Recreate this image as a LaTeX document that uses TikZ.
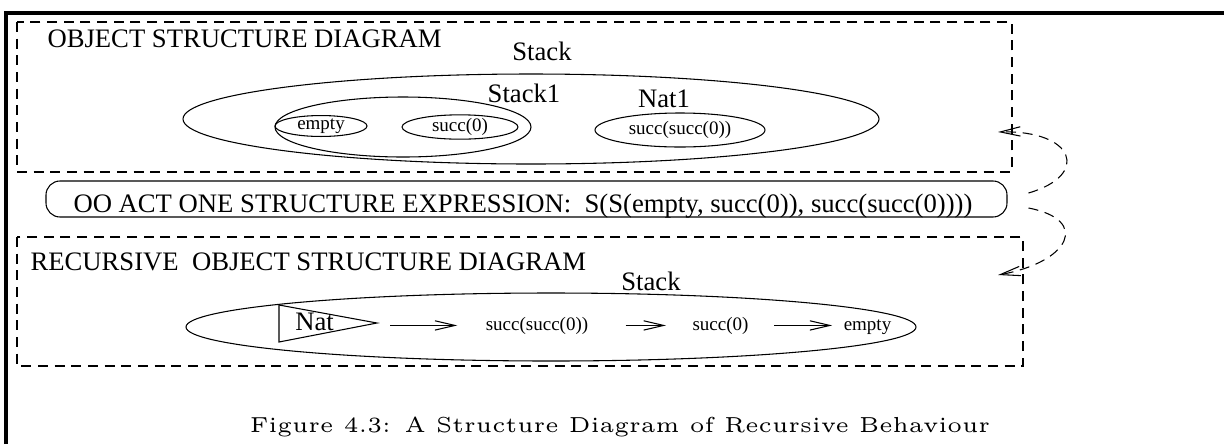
\documentclass[tikz,border=0pt]{standalone}
\usepackage{fontspec}
\newfontfamily\figfont{Liberation Serif}
\newfontfamily\capfont{lmroman5-regular.otf}
\usetikzlibrary{shapes.geometric,arrows.meta}

\tikzset{
  every node/.style={font=\figfont\fontsize{20}{22}\selectfont, inner sep=0pt},
  small/.style={font=\figfont\fontsize{14.25}{16}\selectfont},
  blob/.style={draw, ellipse, inner sep=0pt, small},
  frame/.style={dash pattern=on 7.5pt off 5pt},
  recur/.style={->, dash pattern=on 7.5pt off 5pt},
}

\begin{document}
\begin{tikzpicture}[x=0.75pt,y=-0.75pt,line width=0.8pt,
    >={Straight Barb[length=15pt,width=7pt]}]
	\useasboundingbox (0,0) rectangle (1224,444);

	% page frame
	\draw[line width=3pt] (6,444) -- (6,13) -- (1224,13);

	% object structure
	\draw[frame] (17,22) rectangle (1012,172);
	\node[anchor=base west] (osdtitle) at (47,47) {OBJECT STRUCTURE DIAGRAM};
	\node[anchor=base] (stacklbl) at (542,60) {Stack};
	\node[draw, ellipse, minimum width=522pt, minimum height=67.5pt] (stack) at (531,119) {};
	\node[anchor=base] (stackonelbl) at (524,102) {Stack1};
	\node[draw, ellipse, minimum width=192pt, minimum height=45pt] (stackone) at (403,127) {};
	\node[blob, minimum width=69pt, minimum height=13.5pt] (empty) at (321,126) {empty};
	\node[blob, minimum width=87pt, minimum height=15pt] (succ) at (460,127) {succ(0)};
	\node[anchor=base] (natonelbl) at (664,107) {Nat1};
	\node[blob, minimum width=127.5pt, minimum height=25.5pt] (succsucc) at (680,130) {succ(succ(0))};

	% structure expression
	\node[draw, rounded corners=10.5pt, minimum width=720.75pt, minimum height=27pt] (expr) at (526.5,199) {};
	\node[anchor=base west] (exprtxt) at (73,212)
		{OO ACT ONE STRUCTURE EXPRESSION:\ \ S(S(empty, succ(0)), succ(succ(0))))};

	% recursive object structure
	\draw[frame] (17,237) rectangle (1023,366);
	\node[anchor=base west] (rosdtitle) at (30,270) {RECURSIVE\ \ OBJECT STRUCTURE DIAGRAM};
	\node[anchor=base] (rstacklbl) at (651,290) {Stack};
	\node[draw, ellipse, minimum width=547.5pt, minimum height=51pt] (rstack) at (551,327) {};
	\draw (279,305) -- (377,323) -- (279,342) -- cycle;
	\coordinate (nattip) at (377,323);
	\node[anchor=base] (nat) at (314.5,330) {Nat};
	\node[small, anchor=base] (rone) at (537,330) {succ(succ(0))};
	\node[small, anchor=base] (rtwo) at (720.5,330) {succ(0)};
	\node[small, anchor=base] (rthree) at (867.5,330) {empty};

	\draw[->, shorten <=9.75pt, shorten >=21pt] (nattip |- rone.west) -- (rone.west);
	\draw[->, shorten <=27.75pt, shorten >=19.5pt] (rone.east) -- (rtwo.west);
	\draw[->, shorten <=18.75pt, shorten >=8.25pt] (rtwo.east) -- (rtwo.east -| rthree.west);

	% expression maps back to both diagrams
	\coordinate (loopup) at (998,132);
	\coordinate (loopdown) at (998,275);
	\draw[recur] ([shift={(21,-6)}]expr.east) .. controls +(62,-18) and +(77,-2) .. (loopup);
	\draw[recur] ([shift={(21,9)}]expr.east) .. controls +(62,12) and +(72,-13) .. (loopdown);

	\node[font=\capfont\fontsize{16.3}{19}\selectfont, anchor=base] (caption)
		at (620,432) {Figure 4.3: A Structure Diagram of Recursive Behaviour};

\end{tikzpicture}
\end{document}
